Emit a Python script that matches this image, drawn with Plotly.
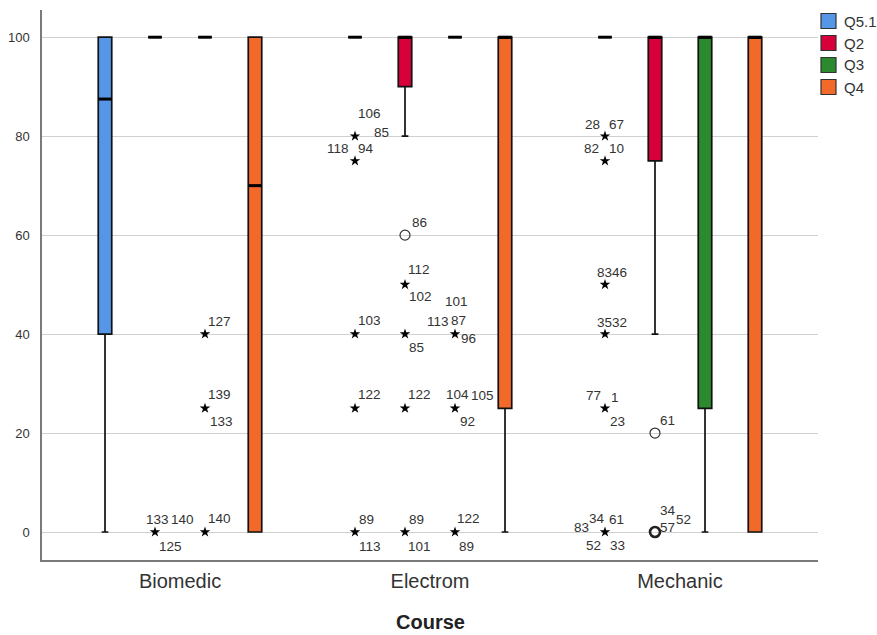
import plotly.graph_objects as go

courses = ["Biomedic", "Electrom", "Mechanic"]
questions = ["Q5.1", "Q2", "Q3", "Q4"]
colors = ["#5596E6", "#D7003A", "#2B8A2E", "#F26A2A"]

# box statistics per question, per course (Biomedic, Electrom, Mechanic)
q1 = {"Q5.1": [40, 100, 100], "Q2": [100, 90, 75], "Q3": [100, 100, 25], "Q4": [0, 25, 0]}
median = {"Q5.1": [87.5, 100, 100], "Q2": [100, 100, 100], "Q3": [100, 100, 100], "Q4": [70, 100, 100]}
q3 = {"Q5.1": [100, 100, 100], "Q2": [100, 100, 100], "Q3": [100, 100, 100], "Q4": [100, 100, 100]}
lower = {"Q5.1": [0, 100, 100], "Q2": [100, 80, 40], "Q3": [100, 100, 0], "Q4": [0, 0, 0]}
upper = {"Q5.1": [100, 100, 100], "Q2": [100, 100, 100], "Q3": [100, 100, 100], "Q4": [100, 100, 100]}

# outliers: course, question, value, kind ('star' extreme / 'circle' outlier)
out_course = ["Biomedic", "Biomedic", "Biomedic", "Biomedic",
              "Electrom", "Electrom", "Electrom", "Electrom", "Electrom",
              "Electrom", "Electrom", "Electrom", "Electrom", "Electrom",
              "Electrom", "Electrom", "Electrom",
              "Mechanic", "Mechanic", "Mechanic", "Mechanic", "Mechanic", "Mechanic",
              "Mechanic", "Mechanic"]
out_question = ["Q2", "Q3", "Q3", "Q3",
                "Q5.1", "Q5.1", "Q5.1", "Q5.1", "Q5.1",
                "Q2", "Q2", "Q2", "Q2", "Q2",
                "Q3", "Q3", "Q3",
                "Q5.1", "Q5.1", "Q5.1", "Q5.1", "Q5.1", "Q5.1",
                "Q2", "Q2"]
out_value = [0, 40, 25, 0,
             80, 75, 40, 25, 0,
             60, 50, 40, 25, 0,
             40, 25, 0,
             80, 75, 50, 40, 25, 0,
             20, 0]
out_kind = ["star", "star", "star", "star",
            "star", "star", "star", "star", "star",
            "circle", "star", "star", "star", "star",
            "star", "star", "star",
            "star", "star", "star", "star", "star", "star",
            "circle", "circle2"]
out_labels = [["133", "140", "125"], ["127"], ["139", "133"], ["140"],
              ["106", "85"], ["118", "94"], ["103"], ["122"], ["89", "113"],
              ["86"], ["112", "102"], ["85"], ["122"], ["89", "101"],
              ["101", "113", "87", "96"], ["104", "105", "92"], ["122", "89"],
              ["28", "67"], ["82", "10"], ["83", "46"], ["35", "32"], ["77", "1", "23"],
              ["83", "34", "61", "52", "33"],
              ["61"], ["34", "52", "57"]]
# label offsets from the point, in pixels (dx right, dy down)
out_label_offsets = [[(2, -13), (27, -13), (15, 14)], [(14, -13)], [(14, -14), (16, 13)], [(14, -14)],
                     [(14, -23), (26, -4)], [(-17, -12), (11, -12)], [(14, -14)], [(14, -14)], [(11, -13), (15, 14)],
                     [(14, -13)], [(14, -15), (15, 12)], [(11, 13)], [(14, -14)], [(11, -13), (14, 14)],
                     [(1, -33), (-17, -13), (3, -14), (13, 4)], [(2, -14), (27, -13), (12, 13)], [(13, -14), (11, 14)],
                     [(-13, -12), (11, -12)], [(-14, -12), (11, -12)], [(-1, -12), (14, -12)], [(-1, -12), (14, -12)],
                     [(-12, -13), (10, -11), (12, 13)],
                     [(-24, -5), (-8, -14), (11, -13), (-12, 13), (12, 13)],
                     [(12, -13)], [(13, -22), (28, -13), (12, -5)]]

offsets = [-0.3, -0.1, 0.1, 0.3]
box_w = 0.054

fig = go.Figure()

for qi, q in enumerate(questions):
    xs = [ci + offsets[qi] for ci in range(len(courses))]
    fig.add_trace(go.Box(
        x=xs, q1=q1[q], median=median[q], q3=q3[q],
        lowerfence=lower[q], upperfence=upper[q],
        width=box_w, whiskerwidth=0.5,
        fillcolor=colors[qi], line=dict(color="#111111", width=1.7),
        boxpoints=False, showlegend=False, hoverinfo="skip", name=q,
    ))
    # thick median lines
    mx, my = [], []
    for ci, xv in enumerate(xs):
        mx += [xv - box_w / 2, xv + box_w / 2, None]
        my += [median[q][ci], median[q][ci], None]
    fig.add_trace(go.Scatter(x=mx, y=my, mode="lines", line=dict(color="black", width=3),
                             showlegend=False, hoverinfo="skip"))

# outliers
sx, sy, cx, cy, c2x, c2y = [], [], [], [], [], []
annotations = []
for i in range(len(out_value)):
    xv = courses.index(out_course[i]) + offsets[questions.index(out_question[i])]
    yv = out_value[i]
    if out_kind[i] == "star":
        sx.append(xv); sy.append(yv)
    elif out_kind[i] == "circle":
        cx.append(xv); cy.append(yv)
    else:
        c2x.append(xv); c2y.append(yv)
    for lab, (dx, dy) in zip(out_labels[i], out_label_offsets[i]):
        annotations.append(dict(x=xv, y=yv, xref="x", yref="y", text=lab, showarrow=False,
                                xshift=dx, yshift=-dy,
                                font=dict(family="Liberation Sans, Arial", size=13.5, color="#333")))

fig.add_trace(go.Scatter(x=sx, y=sy, mode="markers",
                         marker=dict(symbol="star", size=8, color="black", line=dict(width=0)),
                         showlegend=False, hoverinfo="skip"))
fig.add_trace(go.Scatter(x=cx, y=cy, mode="markers",
                         marker=dict(symbol="circle-open", size=10, color="#333", line=dict(width=1.2)),
                         showlegend=False, hoverinfo="skip"))
fig.add_trace(go.Scatter(x=c2x, y=c2y, mode="markers",
                         marker=dict(symbol="circle-open", size=10, color="#222", line=dict(width=2.6)),
                         showlegend=False, hoverinfo="skip"))

# manual legend (swatch + text) placed in the right margin
plot_l, plot_w, plot_b, plot_h = 42, 776, 560, 550
shapes = []
for qi, q in enumerate(questions):
    cy_px = 21 + 22 * qi
    x0 = (821 - plot_l) / plot_w
    x1 = (836 - plot_l) / plot_w
    y0 = (plot_b - (cy_px + 7.5)) / plot_h
    y1 = (plot_b - (cy_px - 7.5)) / plot_h
    shapes.append(dict(type="rect", xref="paper", yref="paper", x0=x0, x1=x1, y0=y0, y1=y1,
                       fillcolor=colors[qi], line=dict(color="#333", width=1.2)))
    annotations.append(dict(xref="paper", yref="paper", x=(842 - plot_l) / plot_w,
                            y=(plot_b - cy_px) / plot_h, xanchor="left", yanchor="middle",
                            text=q, showarrow=False,
                            font=dict(family="Liberation Sans, Arial", size=15, color="#333")))

# x axis title
annotations.append(dict(xref="paper", yref="paper", x=0.5, y=(plot_b - 622) / plot_h,
                        xanchor="center", yanchor="middle", showarrow=False,
                        text="<b>Course</b>",
                        font=dict(family="Liberation Sans, Arial", size=20, color="#222")))

fig.update_layout(
    width=877, height=635,
    margin=dict(l=42, r=59, t=10, b=75),
    paper_bgcolor="white", plot_bgcolor="white",
    font=dict(family="Liberation Sans, Arial", color="#333"),
    annotations=annotations, shapes=shapes,
    showlegend=False,
    boxmode="overlay",
)
fig.update_xaxes(range=[-0.552, 2.552], tickvals=[0, 1, 2], ticktext=courses,
                 showgrid=False, zeroline=False, showline=True, linecolor="#7a7a7a", linewidth=1.5,
                 ticks="", tickfont=dict(size=20, color="#333"), ticklabelstandoff=2,
                 automargin=False)
fig.update_yaxes(range=[-5.66, 105.5], tickvals=[0, 20, 40, 60, 80, 100],
                 showgrid=True, gridcolor="#d0d0d0", gridwidth=1, zeroline=False,
                 showline=True, linecolor="#7a7a7a", linewidth=1.5,
                 ticks="", tickfont=dict(size=13, color="#333"), ticklabelstandoff=8,
                 automargin=False)

fig.write_html("out.html")
